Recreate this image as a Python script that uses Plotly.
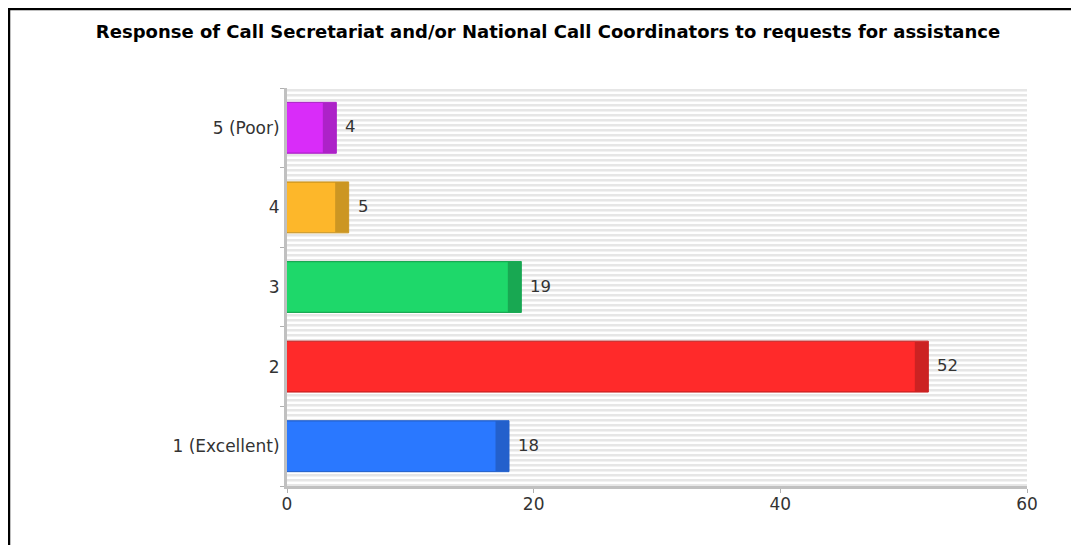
import plotly.graph_objects as go

categories = ["1 (Excellent)", "2", "3", "4", "5 (Poor)"]
values = [18, 52, 19, 5, 4]
main_colors = ["#2a78ff", "#ff2a2a", "#1ed86a", "#fdb72a", "#d92cf9"]
side_colors = ["#2360cc", "#cc2222", "#18a852", "#cc9622", "#ad22c8"]
x_ticks = [0, 20, 40, 60]
title = "Response of Call Secretariat and/or National Call Coordinators to requests for assistance"

OFF = 8  # page body margin offset
W, H = 1079 - OFF, 545 - OFF
L, T = 287 - OFF, 88 - OFF
plot_w, plot_h = 740, 398
R = W - L - plot_w
B = H - T - plot_h
x_max = 60
depth_units = 13.5 / (plot_w / x_max)  # 3D side depth in data units

fig = go.Figure()
fig.add_trace(go.Bar(
    y=categories, x=values, orientation="h",
    marker=dict(color=side_colors, line=dict(color=side_colors, width=1)),
    width=0.64, hoverinfo="skip", showlegend=False,
))
fig.add_trace(go.Bar(
    y=categories, x=[v - depth_units for v in values], orientation="h",
    marker=dict(color=main_colors, line=dict(width=0)),
    width=0.62, showlegend=False,
))

for i, v in enumerate(values):
    fig.add_annotation(x=v, y=i, text=str(v), showarrow=False,
                       xanchor="left", xshift=7, yshift=1,
                       font=dict(family="DejaVu Sans", size=16.5, color="#333333"))

shapes = []
period = 5.0
n = int(plot_h // period) + 1
for i in range(n):
    y_top = i * period + 1
    y_bot = min(y_top + 2.5, plot_h)
    shapes.append(dict(type="rect", xref="paper", yref="paper",
                       x0=0, x1=1, y0=1 - y_bot / plot_h, y1=1 - y_top / plot_h,
                       fillcolor="#e6e6e6", line=dict(width=0), layer="below"))

def px_x(p):
    return (p - L) / plot_w

def px_y(p):
    return 1 - (p - T) / plot_h

shapes.append(dict(type="line", xref="paper", yref="paper",
                   x0=px_x(0), x1=px_x(W + 2), y0=px_y(1), y1=px_y(1),
                   line=dict(color="black", width=2.5)))
shapes.append(dict(type="line", xref="paper", yref="paper",
                   x0=px_x(1), x1=px_x(1), y0=px_y(0), y1=px_y(H + 2),
                   line=dict(color="black", width=2.5)))

fig.update_layout(
    width=W, height=H,
    margin=dict(l=L, r=R, t=T, b=B),
    paper_bgcolor="white", plot_bgcolor="white",
    barmode="overlay",
    shapes=shapes,
    title=dict(text="<b>" + title + "</b>", x=540 / W, xanchor="center",
               y=1 - 24 / H, yanchor="middle",
               font=dict(family="DejaVu Sans", size=18, color="black")),
    font=dict(family="DejaVu Sans", size=17, color="#333333"),
    xaxis=dict(range=[0, x_max], tickvals=x_ticks, ticks="outside", ticklen=4,
               tickcolor="#b0b0b0", showline=True, linecolor="#c0c0c0", linewidth=3,
               showgrid=False, zeroline=False, fixedrange=True, ticklabelstandoff=-3,
               tickfont=dict(family="DejaVu Sans", size=17, color="#333333")),
    yaxis=dict(type="category", categoryorder="array", categoryarray=categories,
               range=[-0.5, 4.5],
               ticks="outside", ticklen=4, tickson="boundaries", tickcolor="#b0b0b0",
               showline=True, linecolor="#c0c0c0", linewidth=3, showgrid=False,
               zeroline=False, fixedrange=True, ticklabelstandoff=1,
               tickfont=dict(family="DejaVu Sans", size=17, color="#333333")),
)

fig.write_html("out.html")
